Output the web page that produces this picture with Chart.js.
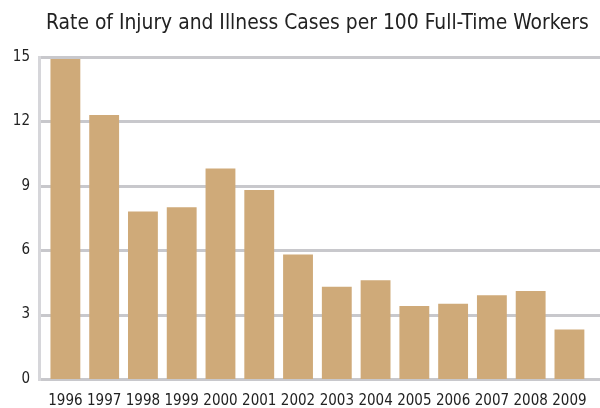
<!DOCTYPE html>
<html>
<head>
<meta charset="utf-8">
<script src="https://cdn.jsdelivr.net/npm/chart.js@4"></script>
<style>
  html, body { margin: 0; padding: 0; background: #fff; }
  #wrap { width: 600px; height: 408px; }
</style>
</head>
<body>
<div id="wrap"><canvas id="injuryChart" width="600" height="408"></canvas></div>
<script>
const years = ['1996', '1997', '1998', '1999', '2000', '2001', '2002', '2003', '2004', '2005', '2006', '2007', '2008', '2009'];
const rates = [14.9, 12.3, 7.8, 8.0, 9.8, 8.8, 5.8, 4.3, 4.6, 3.4, 3.5, 3.9, 4.1, 2.3];
const yTicks = [0, 3, 6, 9, 12, 15];

const FONT = 'DejaVu Sans Condensed';

// grid lines run wider than the bar area, so draw them by hand from the y scale
const gridPlugin = {
  id: 'wideGrid',
  beforeDatasetsDraw(chart) {
    const ctx = chart.ctx;
    const y = chart.scales.y;
    ctx.save();
    ctx.lineWidth = 3;
    ctx.strokeStyle = '#c8c8cc';
    yTicks.forEach(v => {
      const py = Math.round(y.getPixelForValue(v)) + 0.5;
      ctx.beginPath();
      ctx.moveTo(38, py);
      ctx.lineTo(600, py);
      ctx.stroke();
    });
    ctx.strokeStyle = '#d6d6da';
    ctx.beginPath();
    ctx.moveTo(39.5, y.getPixelForValue(15) - 1);
    ctx.lineTo(39.5, y.getPixelForValue(0) + 2);
    ctx.stroke();
    ctx.restore();
  }
};

const ctx = document.getElementById('injuryChart').getContext('2d');
new Chart(ctx, {
  type: 'bar',
  data: {
    labels: years,
    datasets: [{
      data: rates,
      backgroundColor: '#cfaa79',
      borderWidth: 0,
      barPercentage: 0.77,
      categoryPercentage: 1
    }]
  },
  options: {
    responsive: false,
    animation: false,
    layout: { padding: { left: 0, right: 10, top: 0, bottom: 0 } },
    plugins: {
      legend: { display: false },
      tooltip: { enabled: false },
      title: {
        display: true,
        fullSize: false,
        text: 'Rate of Injury and Illness Cases per 100 Full-Time Workers',
        color: '#222',
        font: { family: FONT, size: 21.6, weight: 'normal' },
        padding: { top: 10, bottom: 21 }
      }
    },
    scales: {
      x: {
        afterFit: s => { s.height = 29; },
        grid: { display: false, drawTicks: false },
        border: { display: false },
        ticks: {
          color: '#222',
          font: { family: FONT, size: 15 },
          padding: 13,
          maxRotation: 0,
          autoSkip: false
        }
      },
      y: {
        min: 0,
        max: 15,
        afterFit: s => { s.width = 46; },
        afterBuildTicks: s => { s.ticks = yTicks.map(v => ({ value: v })); },
        grid: { display: false, drawTicks: false },
        border: { display: false },
        ticks: {
          color: '#222',
          font: { family: FONT, size: 15 },
          padding: 16
        }
      }
    }
  },
  plugins: [gridPlugin]
});
</script>
</body>
</html>
